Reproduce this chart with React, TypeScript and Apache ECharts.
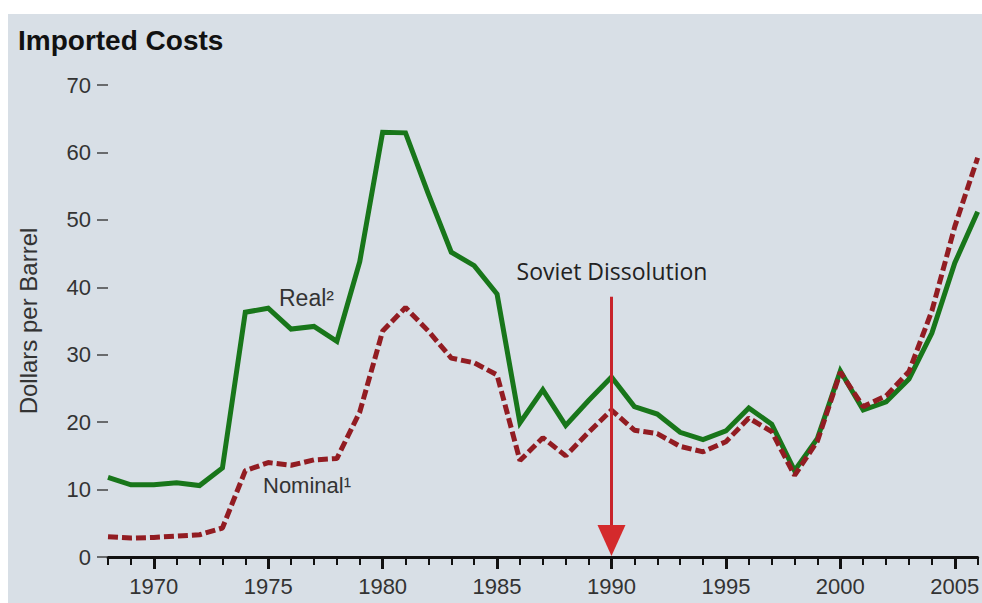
import React, { useEffect, useRef } from "react";
import * as echarts from "echarts";

const years = [
  "1968", "1969", "1970", "1971", "1972", "1973", "1974", "1975", "1976", "1977",
  "1978", "1979", "1980", "1981", "1982", "1983", "1984", "1985", "1986", "1987",
  "1988", "1989", "1990", "1991", "1992", "1993", "1994", "1995", "1996", "1997",
  "1998", "1999", "2000", "2001", "2002", "2003", "2004", "2005", "2006",
];

const realValues = [
  11.8, 10.7, 10.7, 11.0, 10.6, 13.2,
  36.3, 36.9, 33.8, 34.2, 32.0, 43.8,
  63.0, 62.9, 53.8, 45.2, 43.2, 39.0,
  19.9, 24.8, 19.5, 23.2, 26.7, 22.3,
  21.2, 18.5, 17.4, 18.7, 22.1, 19.7,
  12.8, 17.6, 27.6, 21.8, 23.0, 26.4,
  33.2, 43.6, 51.2,
];

const nominalValues = [
  3.0, 2.8, 2.9, 3.1, 3.3, 4.3,
  12.8, 14.0, 13.6, 14.4, 14.6, 21.5,
  33.5, 37.0, 33.5, 29.5, 28.8, 27.0,
  14.3, 17.7, 15.0, 18.5, 21.8, 18.8,
  18.3, 16.4, 15.6, 17.1, 20.6, 18.6,
  12.1, 17.2, 27.4, 22.3, 23.9, 27.5,
  36.5, 49.0, 59.2,
];

const arrowYear = "1990";
const arrowTop = 38.6;

const titleText = "Imported Costs";
const yAxisTitle = "Dollars per Barrel";
const realLabel = "Real\u00B2";
const nominalLabel = "Nominal\u00B9";
const eventLabel = "Soviet Dissolution";

const SANS = "'Liberation Sans', Arial, Helvetica, sans-serif";

export default function App() {
  const ref = useRef<HTMLDivElement>(null);

  useEffect(() => {
    if (!ref.current) return;
    const chart = echarts.init(ref.current, undefined, { renderer: "svg" });
    const isMajor = (_i: number, v: string) => Number(v) % 5 === 0;

    chart.setOption({
      animation: false,
      backgroundColor: "#d8dfe6",
      grid: { left: 91, right: 2, top: 71, bottom: 46, containLabel: false },
      xAxis: [
        {
          type: "category",
          data: years,
          boundaryGap: false,
          position: "bottom",
          axisLine: { show: true, lineStyle: { color: "#111", width: 3 } },
          axisTick: { show: true, interval: 0, length: 8, lineStyle: { color: "#111", width: 2 } },
          axisLabel: {
            interval: isMajor,
            margin: 18,
            fontSize: 22,
            color: "#333",
            fontFamily: SANS,
          },
          splitLine: { show: false },
        },
        {
          type: "category",
          data: years,
          boundaryGap: false,
          position: "bottom",
          axisLine: { show: false },
          axisTick: { show: true, interval: isMajor, length: 12, lineStyle: { color: "#111", width: 3 } },
          axisLabel: { show: false },
          splitLine: { show: false },
        },
      ],
      yAxis: {
        type: "value",
        min: 0,
        max: 70,
        interval: 10,
        axisLine: { show: false },
        axisTick: { show: true, length: 11, lineStyle: { color: "#444", width: 1.5 } },
        axisLabel: { margin: 17, fontSize: 22, color: "#333", fontFamily: SANS },
        splitLine: { show: false },
        name: yAxisTitle,
        nameLocation: "middle",
        nameGap: 68,
        nameRotate: 90,
        nameTextStyle: { fontSize: 24, color: "#333", fontFamily: SANS },
      },
      series: [
        {
          name: "Real",
          type: "line",
          data: realValues,
          showSymbol: false,
          symbol: "none",
          lineStyle: { color: "#18761a", width: 5, join: "miter" },
          z: 3,
        },
        {
          name: "Nominal",
          type: "line",
          data: nominalValues,
          showSymbol: false,
          symbol: "none",
          lineStyle: { color: "#921c22", width: 5, type: [10, 4] },
          z: 4,
        },
        {
          name: "event",
          type: "custom",
          clip: false,
          z: 6,
          data: [[arrowYear, arrowTop]],
          renderItem: (_params: any, api: any) => {
            const top = api.coord([api.value(0), api.value(1)]);
            const base = api.coord([api.value(0), 0]);
            const headH = 32;
            const headW = 28;
            return {
              type: "group",
              children: [
                {
                  type: "line",
                  shape: { x1: top[0], y1: top[1], x2: base[0], y2: base[1] - headH + 2 },
                  style: { stroke: "#c8242b", lineWidth: 3 },
                },
                {
                  type: "polygon",
                  shape: {
                    points: [
                      [base[0] - headW / 2, base[1] - headH],
                      [base[0] + headW / 2, base[1] - headH],
                      [base[0], base[1] - 1],
                    ],
                  },
                  style: { fill: "#d42a2c" },
                },
              ],
            };
          },
        },
      ],
      graphic: [
        {
          type: "text",
          left: 10,
          top: 12,
          style: { text: titleText, fontSize: 28, fontWeight: "bold", fill: "#111", fontFamily: SANS },
        },
        {
          type: "text",
          x: 271,
          y: 284,
          style: { text: realLabel, fontSize: 23, fill: "#333", fontFamily: SANS, verticalAlign: "middle" },
        },
        {
          type: "text",
          x: 255,
          y: 471,
          style: { text: nominalLabel, fontSize: 22, fill: "#333", fontFamily: SANS, verticalAlign: "middle" },
        },
        {
          type: "text",
          x: 604,
          y: 257,
          style: {
            text: eventLabel,
            fontSize: 23,
            fill: "#222",
            fontFamily: "'Open Sans', sans-serif",
            align: "center",
            verticalAlign: "middle",
          },
        },
      ],
    });

    return () => chart.dispose();
  }, []);

  return (
    <div style={{ position: "fixed", left: 0, top: 0, width: 982, height: 603, background: "#ffffff", overflow: "hidden" }}>
      <div ref={ref} style={{ position: "absolute", left: 8, top: 14, width: 974, height: 589 }} />
    </div>
  );
}
